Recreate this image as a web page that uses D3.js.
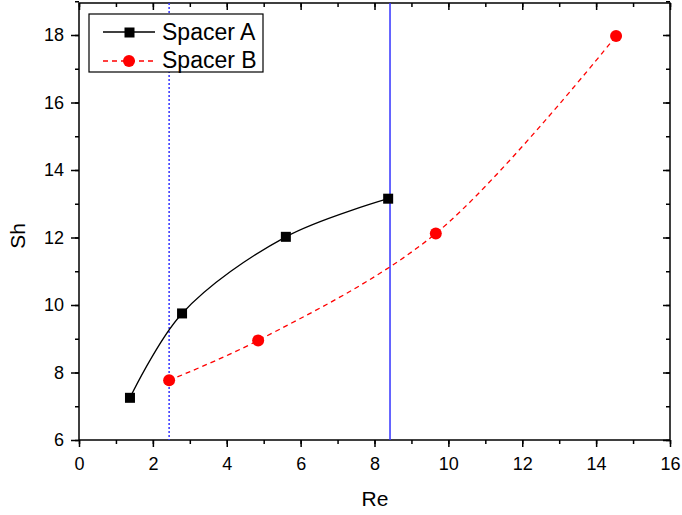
<!DOCTYPE html>
<html>
<head>
<meta charset="utf-8">
<script src="https://cdn.jsdelivr.net/npm/d3@7"></script>
<style>
  body { margin: 0; background: #fff; }
  text { font-family: "Liberation Sans", Arial, sans-serif; }
</style>
</head>
<body>
<svg width="682" height="515"></svg>
<script>
(function () {
  'use strict';
  // data
  var reA = [1.38, 2.79, 5.6, 8.37];
  var shA = [7.25, 9.75, 12.02, 13.15];
  var reB = [2.44, 4.85, 9.66, 14.54];
  var shB = [7.77, 8.95, 12.12, 17.97];
  var vLines = [2.44, 8.42];
  var xTicks = [0, 2, 4, 6, 8, 10, 12, 14, 16];
  var yTicks = [6, 8, 10, 12, 14, 16, 18];

  var left = 79, right = 670, top = 3, bottom = 440;
  var svg = d3.select('svg');

  var x = d3.scaleLinear().domain([0, 16]).range([left, right]);
  var y = d3.scaleLinear().domain([6, 18]).range([bottom, 35]);

  // frame
  svg.append('rect').attr('x', left).attr('y', top)
    .attr('width', right - left).attr('height', bottom - top)
    .attr('fill', 'none').attr('stroke', '#000').attr('stroke-width', 1.5);

  var xMinor = d3.range(0, 17, 1);
  var yMinor = d3.range(6, 19.01, 1);

  svg.append('g').attr('transform', 'translate(0,' + bottom + ')')
    .call(d3.axisBottom(x).tickValues(xMinor).tickSize(4).tickFormat(''));
  svg.append('g').attr('transform', 'translate(0,' + bottom + ')')
    .call(d3.axisBottom(x).tickValues(xTicks).tickSize(7).tickPadding(10).tickFormat(d3.format('d')));
  svg.append('g').attr('transform', 'translate(' + left + ',0)')
    .call(d3.axisLeft(y).tickValues(yMinor).tickSize(4).tickFormat(''));
  svg.append('g').attr('transform', 'translate(' + left + ',0)')
    .call(d3.axisLeft(y).tickValues(yTicks).tickSize(8).tickPadding(7).tickFormat(d3.format('d')));
  // top & right inward ticks
  svg.append('g').attr('transform', 'translate(0,' + top + ')')
    .call(d3.axisBottom(x).tickValues(xMinor).tickSize(4).tickFormat(''));
  svg.append('g').attr('transform', 'translate(0,' + top + ')')
    .call(d3.axisBottom(x).tickValues(xTicks).tickSize(7).tickFormat(''));
  svg.append('g').attr('transform', 'translate(' + right + ',0)')
    .call(d3.axisLeft(y).tickValues(yMinor).tickSize(4).tickFormat(''));
  svg.append('g').attr('transform', 'translate(' + right + ',0)')
    .call(d3.axisLeft(y).tickValues(yTicks).tickSize(7).tickFormat(''));

  svg.selectAll('.domain').remove();
  svg.selectAll('.tick line').attr('stroke-width', 1.5);
  svg.selectAll('.tick text').attr('font-size', 18).attr('fill', '#000');

  // axis titles
  svg.append('text').attr('x', 375).attr('y', 506)
    .attr('text-anchor', 'middle').attr('font-size', 21).text('Re');
  svg.append('text').attr('transform', 'translate(25,236) rotate(-90)')
    .attr('text-anchor', 'middle').attr('font-size', 21).text('Sh');

  // vertical lines
  svg.append('line').attr('x1', x(vLines[0])).attr('x2', x(vLines[0]))
    .attr('y1', top).attr('y2', bottom)
    .attr('stroke', '#3333ff').attr('stroke-width', 1.5).attr('stroke-dasharray', '2,2');
  svg.append('line').attr('x1', x(vLines[1])).attr('x2', x(vLines[1]))
    .attr('y1', top).attr('y2', bottom)
    .attr('stroke', '#3333ff').attr('stroke-width', 1.5);

  var line = d3.line()
    .x(function (d) { return x(d[0]); })
    .y(function (d) { return y(d[1]); })
    .curve(d3.curveCatmullRom.alpha(0.5));

  var dataA = d3.zip(reA, shA);
  var dataB = d3.zip(reB, shB);

  svg.append('path').datum(dataA).attr('d', line)
    .attr('fill', 'none').attr('stroke', '#000').attr('stroke-width', 1.3);
  svg.append('path').datum(dataB).attr('d', line)
    .attr('fill', 'none').attr('stroke', '#ff0000').attr('stroke-width', 1.3)
    .attr('stroke-dasharray', '5,4');

  svg.selectAll('.sqA').data(dataA).enter().append('rect')
    .attr('x', function (d) { return x(d[0]) - 5; })
    .attr('y', function (d) { return y(d[1]) - 5; })
    .attr('width', 10).attr('height', 10).attr('fill', '#000');
  svg.selectAll('.cB').data(dataB).enter().append('circle')
    .attr('cx', function (d) { return x(d[0]); })
    .attr('cy', function (d) { return y(d[1]); })
    .attr('r', 6).attr('fill', '#ff0000');

  // legend
  var lg = svg.append('g');
  lg.append('rect').attr('x', 89).attr('y', 14).attr('width', 174).attr('height', 58)
    .attr('fill', '#fff').attr('stroke', '#000').attr('stroke-width', 1.2);
  lg.append('line').attr('x1', 103).attr('x2', 155).attr('y1', 32).attr('y2', 32)
    .attr('stroke', '#000').attr('stroke-width', 1.3);
  lg.append('rect').attr('x', 124.5).attr('y', 27.5).attr('width', 10).attr('height', 10).attr('fill', '#000');
  lg.append('text').attr('x', 162).attr('y', 40).attr('font-size', 23).text('Spacer A');
  lg.append('line').attr('x1', 103).attr('x2', 155).attr('y1', 61).attr('y2', 61)
    .attr('stroke', '#ff0000').attr('stroke-width', 1.3).attr('stroke-dasharray', '5,4');
  lg.append('circle').attr('cx', 129).attr('cy', 61).attr('r', 6).attr('fill', '#ff0000');
  lg.append('text').attr('x', 162).attr('y', 68).attr('font-size', 23).text('Spacer B');
})();
</script>
</body>
</html>
